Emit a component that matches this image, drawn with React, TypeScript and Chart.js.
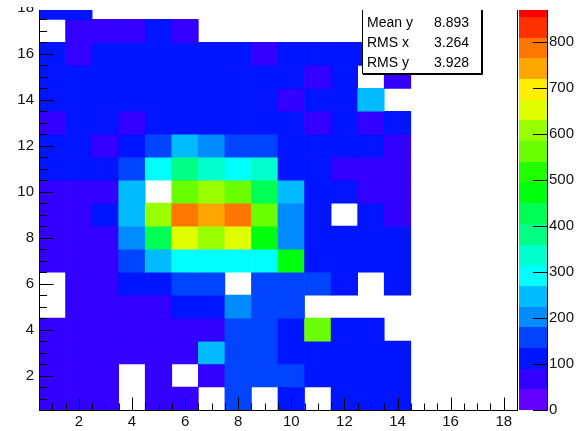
import React, { useEffect, useRef } from "react";
import { Chart, registerables } from "chart.js";

Chart.register(...registerables);

// ---- data (bin centres, counts per row from y=1 at the bottom to y=18 at the top) ----
const xBins = [1, 2, 3, 4, 5, 6, 7, 8, 9, 10, 11, 12, 13, 14, 15, 16, 17, 18];
const yBins = [1, 2, 3, 4, 5, 6, 7, 8, 9, 10, 11, 12, 13, 14, 15, 16, 17, 18];

const row1 = [70, 70, 70, 0, 70, 70, 0, 160, 0, 115, 0, 115, 115, 115, 0, 0, 0, 0];
const row2 = [70, 70, 70, 0, 70, 0, 70, 160, 160, 160, 115, 115, 115, 115, 0, 0, 0, 0];
const row3 = [70, 70, 70, 70, 70, 70, 250, 160, 160, 115, 115, 115, 115, 115, 0, 0, 0, 0];
const row4 = [70, 70, 70, 70, 70, 70, 70, 160, 160, 115, 565, 115, 115, 0, 0, 0, 0, 0];
const row5 = [0, 70, 70, 70, 70, 115, 115, 205, 160, 160, 0, 0, 0, 0, 0, 0, 0, 0];
const row6 = [0, 70, 70, 115, 115, 160, 160, 0, 160, 160, 160, 115, 0, 115, 0, 0, 0, 0];
const row7 = [70, 70, 70, 160, 250, 295, 295, 295, 295, 475, 115, 115, 115, 115, 0, 0, 0, 0];
const row8 = [70, 70, 70, 205, 430, 655, 610, 655, 475, 205, 115, 115, 115, 115, 0, 0, 0, 0];
const row9 = [70, 70, 115, 250, 610, 790, 745, 790, 565, 205, 115, 0, 115, 70, 0, 0, 0, 0];
const row10 = [70, 70, 70, 250, 0, 565, 610, 565, 430, 250, 115, 115, 70, 70, 0, 0, 0, 0];
const row11 = [115, 115, 115, 160, 295, 385, 340, 295, 340, 115, 115, 70, 70, 70, 0, 0, 0, 0];
const row12 = [115, 115, 70, 115, 160, 250, 205, 160, 160, 115, 115, 115, 115, 70, 0, 0, 0, 0];
const row13 = [70, 115, 115, 70, 115, 115, 115, 115, 115, 115, 70, 115, 70, 115, 0, 0, 0, 0];
const row14 = [115, 115, 115, 115, 115, 115, 115, 115, 115, 70, 115, 115, 250, 0, 0, 0, 0, 0];
const row15 = [115, 115, 115, 115, 115, 115, 115, 115, 115, 115, 70, 115, 0, 70, 0, 0, 0, 0];
const row16 = [115, 70, 115, 115, 115, 115, 115, 115, 70, 115, 115, 115, 115, 0, 0, 0, 0, 0];
const row17 = [0, 70, 70, 70, 115, 70, 0, 0, 0, 0, 0, 0, 0, 0, 0, 0, 0, 0];
const row18 = [115, 115, 0, 0, 0, 0, 0, 0, 0, 0, 0, 0, 0, 0, 0, 0, 0, 0];
const counts = [row1, row2, row3, row4, row5, row6, row7, row8, row9, row10, row11, row12, row13, row14, row15, row16, row17, row18];

const xTickLabels = [2, 4, 6, 8, 10, 12, 14, 16, 18];
const yTickLabels = [2, 4, 6, 8, 10, 12, 14, 16, 18];
const zTickLabels = [0, 100, 200, 300, 400, 500, 600, 700, 800];
const statNames = ["Mean y", "RMS x", "RMS y"];
const statValues = ["8.893", "3.264", "3.928"];

const Z_MIN = 0;
const Z_MAX = 900;
const N_LEVELS = 20;
const N_COLORS = 50;

// ---- layout constants ----
const T = 30; // canvas starts this far above the page top (top of the pad is cut off)
const CW = 583;
const CH = 461;
const FONT = "'Liberation Sans', Arial, Helvetica, sans-serif";

function levelColor(k: number) {
  const idx = Math.floor(((k + 0.99) * N_COLORS) / N_LEVELS);
  const hue = 280 - (idx + 1) * (280 / N_COLORS);
  return `hsl(${hue}, 100%, 50%)`;
}
function colorFor(v: number) {
  const step = (Z_MAX - Z_MIN) / N_LEVELS;
  const k = Math.max(0, Math.min(N_LEVELS - 1, Math.floor((v - Z_MIN) / step)));
  return levelColor(k);
}

function fixSize(s: any, w: number | null, h: number | null) {
  if (w !== null) s.width = w;
  if (h !== null) s.height = h;
  s.paddingTop = 0;
  s.paddingBottom = 0;
  s.paddingLeft = 0;
  s.paddingRight = 0;
}

const rootPlugin = {
  id: "rootDecor",
  afterDatasetsDraw(chart: any) {
    const { ctx, chartArea: a, scales } = chart;
    const xs = scales.x;
    const ys = scales.y;
    const zs = scales.y2;
    ctx.save();
    // colour palette bar
    const cx0 = Math.round(a.right) + 2;
    const cx1 = Math.round(a.right) + 30;
    const step = (Z_MAX - Z_MIN) / N_LEVELS;
    for (let k = 0; k < N_LEVELS; k++) {
      const y0 = Math.round(zs.getPixelForValue(Z_MIN + k * step));
      const y1 = Math.round(zs.getPixelForValue(Z_MIN + (k + 1) * step));
      ctx.fillStyle = levelColor(k);
      ctx.fillRect(cx0, y1, cx1 - cx0, y0 - y1);
    }
    ctx.strokeStyle = "#000";
    ctx.lineWidth = 1;
    ctx.beginPath();
    ctx.moveTo(cx1 + 0.5, a.top);
    ctx.lineTo(cx1 + 0.5, Math.round(a.bottom) + 0.5);
    ctx.stroke();
    ctx.beginPath();
    zTickLabels.forEach((v) => {
      const py = Math.round(zs.getPixelForValue(v)) + 0.5;
      ctx.moveTo(cx1 - 14, py);
      ctx.lineTo(cx1 + 0.5, py);
    });
    ctx.stroke();

    // frame
    const L = Math.round(a.left) + 0.5;
    const R = Math.round(a.right) + 0.5;
    const B = Math.round(a.bottom) + 0.5;
    const Tp = Math.round(a.top) + 0.5;
    ctx.strokeRect(L, Tp, R - L, B - Tp);

    // ticks (inside the frame)
    ctx.beginPath();
    for (let v = 1; v <= 18; v += 0.5) {
      const major = v % 2 === 0;
      const px = Math.round(xs.getPixelForValue(v)) + 0.5;
      ctx.moveTo(px, B);
      ctx.lineTo(px, B - (major ? 13 : 7));
      const py = Math.round(ys.getPixelForValue(v)) + 0.5;
      ctx.moveTo(L, py);
      ctx.lineTo(L + (major ? 14 : 7.5), py);
    }
    ctx.stroke();
    ctx.restore();
  },
  afterDraw(chart: any) {
    const { ctx } = chart;
    ctx.save();
    // statistics box
    const bx0 = 362, bx1 = 482, by1 = 73 + T;
    ctx.fillStyle = "#fff";
    ctx.fillRect(bx0, 0, bx1 - bx0, by1);
    ctx.strokeStyle = "#000";
    ctx.lineWidth = 1;
    ctx.strokeRect(bx0 + 0.5, -5, bx1 - bx0 - 1, by1 + 5 + 0.5);
    ctx.beginPath();
    ctx.moveTo(bx1 + 0.5, 0);
    ctx.lineTo(bx1 + 0.5, by1 + 1.5);
    ctx.lineTo(bx0 + 1, by1 + 1.5);
    ctx.stroke();
    ctx.fillStyle = "#000";
    ctx.font = `14px ${FONT}`;
    ctx.textBaseline = "middle";
    const rowsY = [22.7, 43.3, 63.3];
    statNames.forEach((n, i) => {
      ctx.textAlign = "left";
      ctx.fillText(n, 367, rowsY[i] + T);
      ctx.textAlign = "right";
      ctx.fillText(statValues[i], 469, rowsY[i] + T);
    });
    // white band hiding the cut-off top of the pad
    ctx.fillStyle = "#fff";
    ctx.fillRect(0, 0, CW, T + 7);
    ctx.fillRect(37, 0, CW - 37, T + 10);
    ctx.restore();
  },
};

export default function App() {
  const ref = useRef<HTMLCanvasElement | null>(null);
  useEffect(() => {
    if (!ref.current) return;
    const cells: any[] = [];
    const colors: string[] = [];
    yBins.forEach((yc, j) => {
      xBins.forEach((xc, i) => {
        const v = counts[j][i];
        if (v > 0) {
          cells.push({ x: xc, y: [yc - 0.5, yc + 0.5], v });
          colors.push(colorFor(v));
        }
      });
    });
    const tickFont = { family: FONT, size: 15 };
    const chart = new Chart(ref.current, {
      type: "bar",
      data: {
        datasets: [
          {
            data: cells,
            backgroundColor: colors,
            borderWidth: 0,
            barPercentage: 1,
            categoryPercentage: 1,
            grouped: false,
          } as any,
        ],
      },
      options: {
        animation: false,
        responsive: false,
        events: [],
        layout: { padding: { top: T - 3.6, left: 0, right: 0, bottom: 0 } },
        plugins: { legend: { display: false }, tooltip: { enabled: false }, title: { display: false } },
        scales: {
          x: {
            type: "linear",
            min: 0.5,
            max: 18.5,
            offset: false,
            grid: { display: false, drawTicks: false },
            border: { display: false },
            ticks: { font: tickFont, color: "#111", padding: 3, maxRotation: 0 },
            afterBuildTicks: (s: any) => {
              s.ticks = xTickLabels.map((v) => ({ value: v }));
            },
            afterFit: (s: any) => fixSize(s, null, 21),
          },
          y: {
            type: "linear",
            min: 0.5,
            max: 18.5,
            beginAtZero: false,
            grid: { display: false, drawTicks: false },
            border: { display: false },
            ticks: { font: tickFont, color: "#111", padding: 5 },
            afterBuildTicks: (s: any) => {
              s.ticks = yTickLabels.map((v) => ({ value: v }));
            },
            afterFit: (s: any) => fixSize(s, 39, null),
          },
          y2: {
            type: "linear",
            axis: "y",
            position: "right",
            min: Z_MIN,
            max: Z_MAX,
            grid: { display: false, drawTicks: false },
            border: { display: false },
            ticks: { font: tickFont, color: "#111", padding: 32 },
            afterBuildTicks: (s: any) => {
              s.ticks = zTickLabels.map((v) => ({ value: v }));
            },
            afterFit: (s: any) => fixSize(s, 66, null),
          },
        } as any,
      },
      plugins: [rootPlugin],
    });
    return () => chart.destroy();
  }, []);
  return (
    <div style={{ position: "absolute", left: 0, top: -T, width: CW, height: CH }}>
      <canvas ref={ref} width={CW} height={CH} style={{ width: CW, height: CH, display: "block" }} />
    </div>
  );
}
